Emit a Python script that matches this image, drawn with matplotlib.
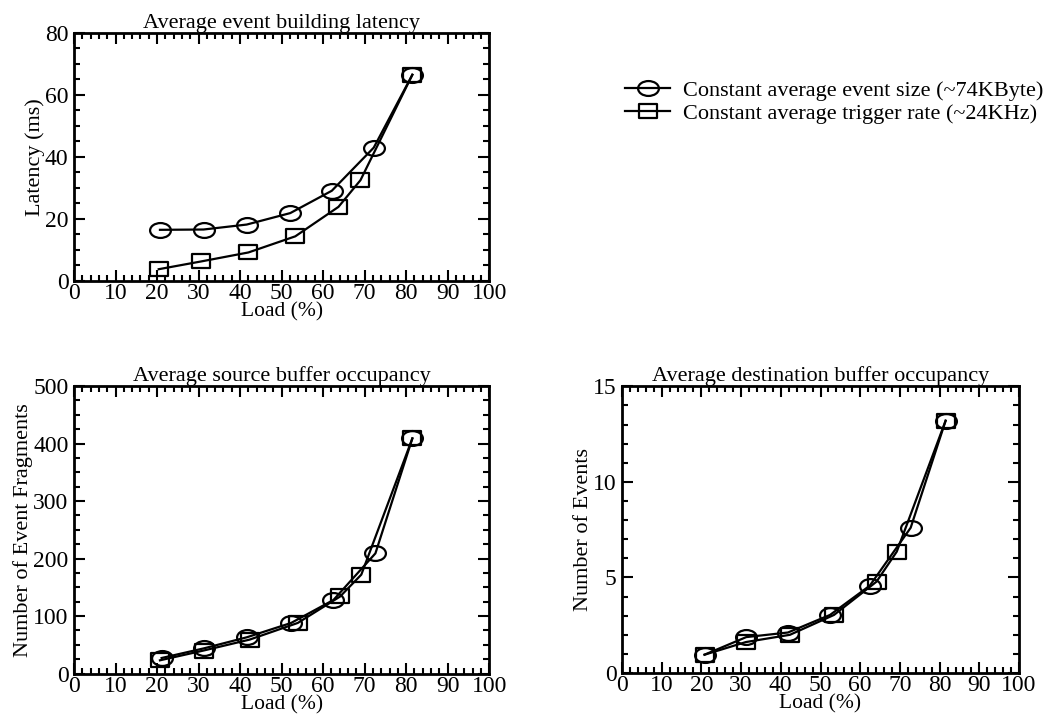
import matplotlib
matplotlib.use("Agg")
import matplotlib.pyplot as plt
from matplotlib.path import Path
from matplotlib.transforms import Affine2D
from matplotlib.ticker import MultipleLocator

plt.rcParams["font.family"] = ["Liberation Serif", "DejaVu Serif"]

# ----------------------------
# Dados
# ----------------------------
load_size_lat = [20.7, 31.2, 41.6, 52.1, 62.1, 72.2, 81.5]
lat_size = [16.5, 16.6, 18.2, 21.9, 29.1, 43.0, 66.5]
load_rate_lat = [20.4, 30.6, 42.0, 53.3, 63.7, 69.0, 81.5]
lat_rate = [3.8, 6.3, 9.2, 14.4, 23.9, 32.5, 66.5]

load_size_src = [21.1, 31.4, 41.6, 52.3, 62.5, 72.6, 81.5]
src_size = [27, 44, 63, 88, 128, 209, 409]
load_rate_src = [20.7, 31.2, 42.3, 53.9, 64.1, 69.2, 81.5]
src_rate = [23, 40, 59, 88, 134, 172, 409]

load_size_dst = [20.8, 31.3, 41.8, 52.4, 62.4, 72.7, 81.5]
dst_size = [0.96, 1.88, 2.12, 3.04, 4.57, 7.6, 13.2]
load_rate_dst = [20.8, 31.2, 42.3, 53.4, 64.1, 69.2, 81.5]
dst_rate = [0.96, 1.62, 2.0, 3.04, 4.78, 6.35, 13.2]

labels = ["Constant average event size (~74KByte)",
          "Constant average trigger rate (~24KHz)"]

# marcador eliptico (mais largo que alto)
ellipse = Path.unit_circle().transformed(Affine2D().scale(1.4, 1.0))
box = Path.unit_rectangle().transformed(Affine2D().translate(-0.5, -0.5).scale(1.25, 1.0))

# ----------------------------
# Figura
# ----------------------------
fig = plt.figure(figsize=(10.59, 7.15), dpi=100)
ax1 = fig.add_axes([0.0699, 0.607, 0.392, 0.347])
ax2 = fig.add_axes([0.0699, 0.058, 0.392, 0.402])
ax3 = fig.add_axes([0.5873, 0.0587, 0.375, 0.401])

panels = [
    (ax1, load_size_lat, lat_size, load_rate_lat, lat_rate,
     "Average event building latency", "Latency (ms)", 80, 20, 5),
    (ax2, load_size_src, src_size, load_rate_src, src_rate,
     "Average source buffer occupancy", "Number of Event Fragments", 500, 100, 25),
    (ax3, load_size_dst, dst_size, load_rate_dst, dst_rate,
     "Average destination buffer occupancy", "Number of Events", 15, 5, 1),
]

for ax, xs, ys, xr, yr, title, ylabel, ymax, ymaj, ymin in panels:
    h1, = ax.plot(xs, ys, color="black", lw=1.6, marker=ellipse, ms=15,
                  mfc="none", mec="black", mew=1.6)
    h2, = ax.plot(xr, yr, color="black", lw=1.6, marker=box, ms=13,
                  mfc="none", mec="black", mew=1.6)
    ax.set_xlim(0, 100)
    ax.set_ylim(0, ymax)
    ax.xaxis.set_major_locator(MultipleLocator(10))
    ax.xaxis.set_minor_locator(MultipleLocator(2))
    ax.yaxis.set_major_locator(MultipleLocator(ymaj))
    ax.yaxis.set_minor_locator(MultipleLocator(ymin))
    ax.tick_params(which="both", direction="in", top=True, right=True,
                   width=1.5, labelsize=17)
    ax.tick_params(axis="x", pad=1.5)
    ax.tick_params(axis="y", pad=4)
    ax.tick_params(which="major", length=8)
    ax.tick_params(which="minor", length=4)
    for s in ax.spines.values():
        s.set_linewidth(2)
    ax.set_title(title, fontsize=16, pad=3)
    ax.set_xlabel("Load (%)", fontsize=15.5, labelpad=-1)
    ax.set_ylabel(ylabel, fontsize=16, labelpad=0)

fig.legend([h1, h2], labels, loc="upper left", bbox_to_anchor=(0.58, 0.903),
           frameon=False, fontsize=16, handlelength=2.0, handletextpad=0.6,
           labelspacing=0.1, borderpad=0)

fig.savefig("out.png", dpi=100)
